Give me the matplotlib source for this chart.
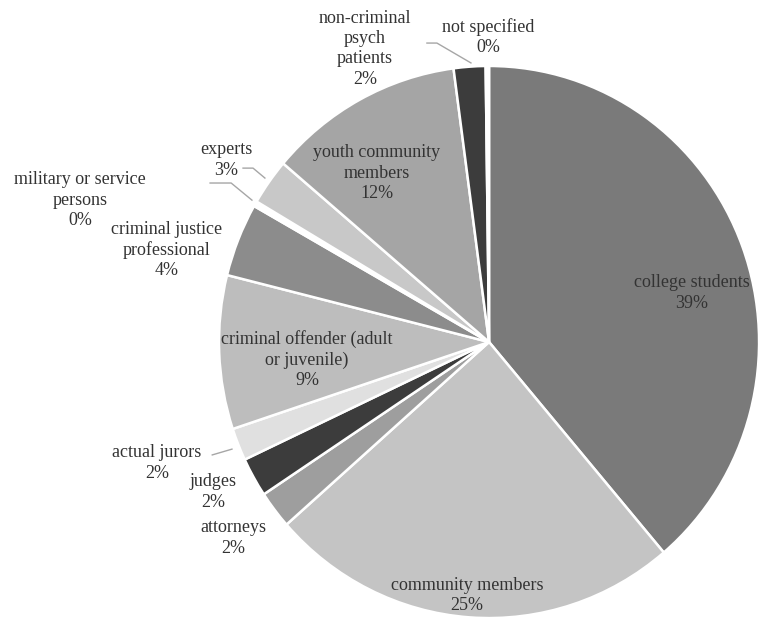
import matplotlib.pyplot as plt

# Participant types (clockwise from 12 o'clock)
categories = ["college students", "community members", "attorneys", "judges",
              "actual jurors", "criminal offender (adult\nor juvenile)",
              "criminal justice\nprofessional", "military or service\npersons",
              "experts", "youth community\nmembers", "non-criminal\npsych\npatients",
              "not specified"]
shares = [38.8, 24.7, 2.2, 2.3, 1.9, 9.0, 4.3, 0.3, 2.7, 11.7, 1.9, 0.2]
pct_labels = ["39%", "25%", "2%", "2%", "2%", "9%", "4%", "0%", "3%", "12%", "2%", "0%"]

colors = ["#7a7a7a", "#c4c4c4", "#9e9e9e", "#3c3c3c", "#e0e0e0", "#bdbdbd",
          "#8c8c8c", "#ffffff", "#c8c8c8", "#a5a5a5", "#3c3c3c", "#ffffff"]

# label centres in pie units (radius = 1)
label_pos = [(0.752, 0.178), (-0.081, -0.917), (-0.948, -0.710), (-1.022, -0.543),
             (-1.230, -0.438), (-0.674, -0.065), (-1.193, 0.333), (-1.515, 0.514),
             (-0.974, 0.659), (-0.415, 0.612), (-0.459, 1.062), (-0.004, 1.105)]

# leader lines (text side -> slice)
leaders = [[(-1.025, -0.409), (-0.952, -0.388)],
           [(-1.033, 0.576), (-0.955, 0.576), (-0.878, 0.514)],
           [(-0.911, 0.630), (-0.874, 0.630), (-0.830, 0.594)],
           [(-0.230, 1.083), (-0.193, 1.083), (-0.067, 1.011)]]

plt.rcParams['font.family'] = ['Liberation Serif', 'DejaVu Serif']

fig = plt.figure(figsize=(7.58, 6.2), dpi=100)
ax = fig.add_axes([0, 0, 1, 1])

ax.pie(shares, colors=colors, startangle=90, counterclock=False, radius=1,
       wedgeprops=dict(edgecolor='white', linewidth=1.8))

for name, pct, (x, y) in zip(categories, pct_labels, label_pos):
    ax.text(x, y, name + "\n" + pct, ha='center', va='center', fontsize=13,
            color='#333333', linespacing=1.25)

for pts in leaders:
    ax.plot([p[0] for p in pts], [p[1] for p in pts], color='#a6a6a6', lw=1)

ax.set_aspect('auto')
ax.set_xlim(-1.811, 0.996)
ax.set_ylim(-1.007, 1.239)
ax.axis('off')

fig.savefig("out.png", dpi=100)
